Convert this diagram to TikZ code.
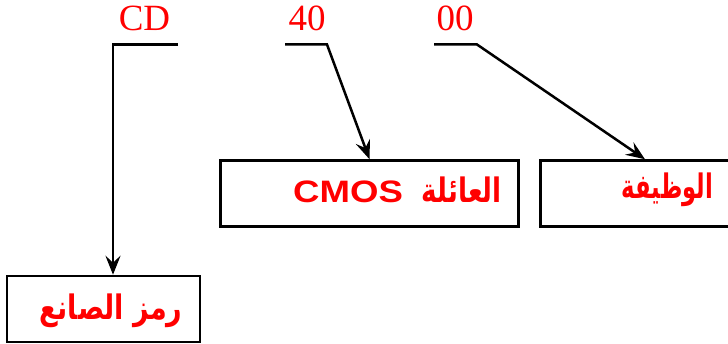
\documentclass[tikz,border=0pt]{standalone}
\usepackage{fontspec}
\usetikzlibrary{arrows.meta}
\setmainfont{Liberation Serif}
\newfontfamily\arabicfont[Script=Arabic]{DejaVu Sans}
\newfontfamily\latinsans{Liberation Sans}
\TeXXeTstate=1
\definecolor{labred}{RGB}{255,0,0}
\newcommand\arbfont{\fontsize{27}{30}\selectfont\arabicfont\bfseries}
\tikzset{
  codetext/.style={text=labred, inner sep=0pt, anchor=base, font=\fontsize{37}{40}\selectfont},
  partbox/.style={draw=black, line width=2.5pt, inner sep=0pt},
  boxtext/.style={text=labred, inner sep=0pt},
  leader/.style={draw=black, line width=2.5pt},
  pointer/.style={leader, -{Stealth[length=19pt,width=15pt,inset=7pt]}},
}
\begin{document}
\begin{tikzpicture}[x=1pt,y=-1pt]
\useasboundingbox (0,0) rectangle (728,344);
% code texts
\node[codetext] (cd) at (144.5,30.5) {CD};
\node[codetext] (n40) at (307,30.5) {40};
\node[codetext] (n00) at (455,30.5) {00};
% boxes
\node[partbox, minimum width=298pt, minimum height=66pt] (family) at (369.5,193.5) {};
\node[partbox, minimum width=209pt, minimum height=66pt] (func) at (645,193.5) {};
\node[partbox, minimum width=193pt, minimum height=66pt] (maker) at (103.5,309) {};
% box texts
\node[boxtext] (famtxt) at (397.5,190) {\scalebox{1.18}[1]{\fontsize{31}{34}\selectfont\latinsans\bfseries CMOS}\hspace{19pt}\scalebox{0.97}[1.25]{\arbfont\beginR العائلة\endR}};
\node[boxtext] (functxt) at (667.5,190) {\scalebox{0.84}[1.25]{\arbfont\beginR الوظيفة\endR}};
\node[boxtext] (makertxt) at (111,311) {\scalebox{1}[1.25]{\arbfont\beginR رمز الصانع\endR}};
% leader coordinates
\coordinate (cdL) at (113,44.5);
\coordinate (cdR) at (178,44.5);
\coordinate (fL) at (285,44.5);
\coordinate (fR) at (327,44.5);
\coordinate (oL) at (434,44.5);
\coordinate (oR) at (477,44.5);
% connectors
\draw[pointer] (cdR) -- (cdL) -- (cdL |- maker.north);
\draw[pointer] (fL) -- (fR) -- (family.north);
\draw[pointer] (oL) -- (oR) -- (func.north);
\end{tikzpicture}
\end{document}
